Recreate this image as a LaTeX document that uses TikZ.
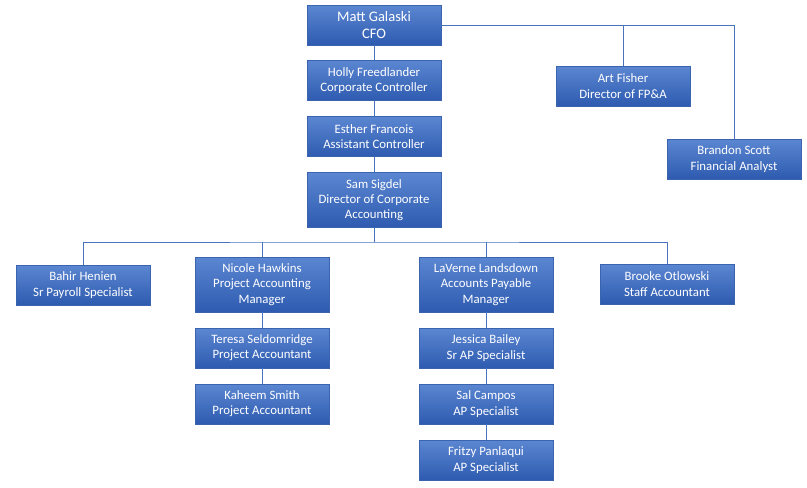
\documentclass[tikz,border=0pt]{standalone}
\usepackage{fontspec}
\setmainfont{Carlito}
\definecolor{boxtop}{HTML}{5B86D1}
\definecolor{boxbot}{HTML}{2E5BB0}
\definecolor{boxline}{HTML}{3A64B0}
\definecolor{conn}{HTML}{4A73BE}
\begin{document}
\begin{tikzpicture}[x=0.75pt,y=-0.75pt,
  person/.style={rectangle,draw=boxline,line width=0.4pt,top color=boxtop,bottom color=boxbot,
    text=white,align=center,minimum width=100.5pt,minimum height=30pt,inner sep=1pt,
    font=\fontsize{9.6}{11.4}\selectfont},
  tall/.style={minimum height=41.25pt},
  link/.style={draw=conn,line width=0.6pt}]
\useasboundingbox (0,0) rectangle (807,487);
\node[person,font=\fontsize{10.9}{12.8}\selectfont] (matt) at (374,25) {Matt Galaski\\CFO};
\node[person] (holly) at (374,80.5) {Holly Freedlander\\Corporate Controller};
\node[person] (esther) at (374,136.5) {Esther Francois\\Assistant Controller};
\node[person,tall] (sam) at (374,200) {Sam Sigdel\\Director of Corporate\\Accounting};
\node[person] (art) at (623,86) {Art Fisher\\Director of FP\&A};
\node[person] (brandon) at (734,159) {Brandon Scott\\Financial Analyst};
\node[person] (bahir) at (83,285) {Bahir Henien\\Sr Payroll Specialist};
\node[person,tall] (nicole) at (262,284.5) {Nicole Hawkins\\Project Accounting\\Manager};
\node[person,tall] (laverne) at (486,284.5) {LaVerne Landsdown\\Accounts Payable\\Manager};
\node[person] (brooke) at (667,284) {Brooke Otlowski\\Staff Accountant};
\node[person] (teresa) at (262,348) {Teresa Seldomridge\\Project Accountant};
\node[person] (kaheem) at (262,404) {Kaheem Smith\\Project Accountant};
\node[person] (jessica) at (486,348) {Jessica Bailey\\Sr AP Specialist};
\node[person] (sal) at (486,404) {Sal Campos\\AP Specialist};
\node[person] (fritzy) at (486,460) {Fritzy Panlaqui\\AP Specialist};
\coordinate (rbus) at (734,25);
\coordinate (abus) at (623,25);
\coordinate (bus) at (374,242);
\draw[link] (matt) -- (holly);
\draw[link] (holly) -- (esther);
\draw[link] (esther) -- (sam);
\draw[link] (matt.east) -- (rbus) -- (brandon.north);
\draw[link] (abus) -- (art.north);
\draw[link] (sam.south) -- (bus);
\draw[link] (bahir.north) |- (bus) -| (brooke.north);
\draw[link] (nicole.north) -- (nicole.north |- bus);
\draw[link] (laverne.north) -- (laverne.north |- bus);
\draw[link] (nicole) -- (teresa);
\draw[link] (teresa) -- (kaheem);
\draw[link] (laverne) -- (jessica);
\draw[link] (jessica) -- (sal);
\draw[link] (sal) -- (fritzy);
\end{tikzpicture}
\end{document}
